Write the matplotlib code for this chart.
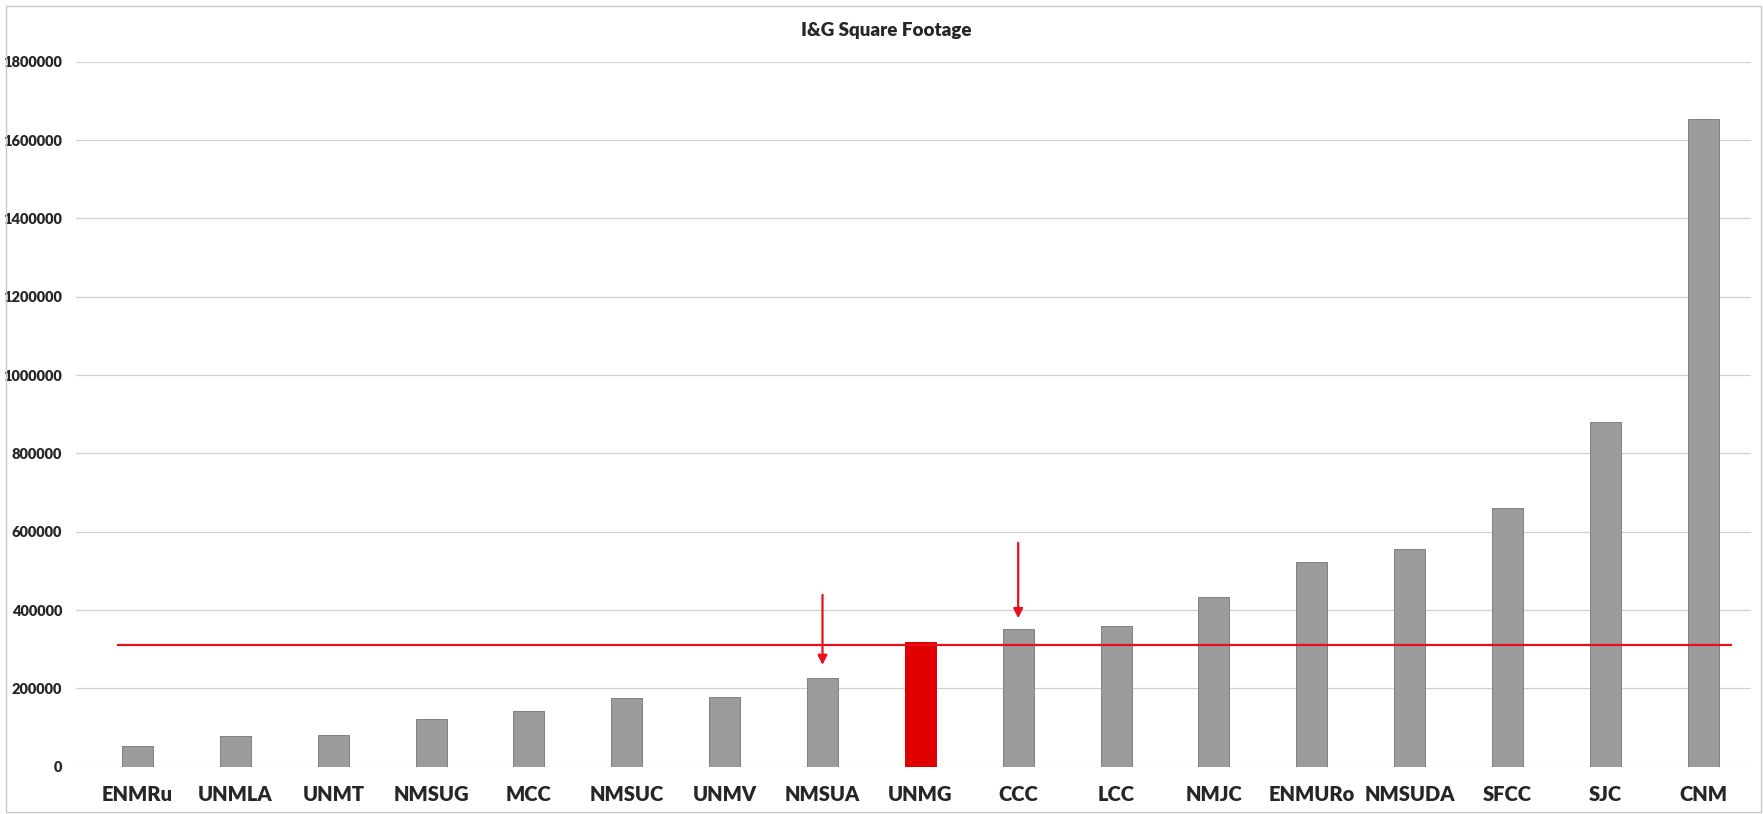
import matplotlib
matplotlib.use('Agg')
import matplotlib.pyplot as plt
from matplotlib.patches import Rectangle

plt.rcParams['font.family'] = ['Lato', 'DejaVu Sans']

campuses = ['ENMRu', 'UNMLA', 'UNMT', 'NMSUG', 'MCC', 'NMSUC', 'UNMV', 'NMSUA', 'UNMG',
            'CCC', 'LCC', 'NMJC', 'ENMURo', 'NMSUDA', 'SFCC', 'SJC', 'CNM']
sq_footage = [53600, 78400, 81700, 121500, 142000, 175400, 178700, 225800, 319300,
              351700, 359400, 434200, 522000, 556000, 661600, 880900, 1652600]
highlight = 'UNMG'
reference_level = 309500
arrow_targets = ['NMSUA', 'CCC']
arrow_from = [438600, 571400]
arrow_to = [259800, 379000]
y_ticks = [0, 200000, 400000, 600000, 800000, 1000000, 1200000, 1400000, 1600000, 1800000]

fig = plt.figure(figsize=(17.63, 8.14), dpi=100)
ax = fig.add_axes([0.0431, 0.0581, 0.9501, 0.8661])

x = list(range(len(campuses)))
colors = ['#e00000' if c == highlight else '#9b9b9b' for c in campuses]
edges = ['#e00000' if c == highlight else '#808080' for c in campuses]
ax.bar(x, sq_footage, width=0.317, color=colors, edgecolor=edges, linewidth=0.7, zorder=2)

# reference line at UNMG level
ax.hlines(reference_level, -0.21, 16.3, colors='#e8101a', linewidth=1.6, zorder=3)

for name, y0, y1 in zip(arrow_targets, arrow_from, arrow_to):
    i = campuses.index(name)
    ax.annotate('', xy=(i, y1), xytext=(i, y0),
                arrowprops=dict(arrowstyle='-|>', color='#e8101a', lw=1.6,
                                mutation_scale=14, shrinkA=0, shrinkB=0), zorder=4)

ax.set_xlim(-0.63, 16.49)
ax.set_ylim(0, 1800000)
ax.set_yticks(y_ticks)
ax.set_yticklabels([str(t) for t in y_ticks])
ax.set_xticks(x)
ax.set_xticklabels(campuses)
ax.grid(axis='y', color='#d0d0d0', linewidth=0.9, zorder=0)
ax.set_axisbelow(True)
for s in ax.spines.values():
    s.set_visible(False)
ax.tick_params(axis='both', length=0, colors='#262626')
ax.tick_params(axis='x', pad=13, labelsize=14.5)
ax.tick_params(axis='y', pad=10, labelsize=10.5)
for lab in ax.get_xticklabels() + ax.get_yticklabels():
    lab.set_fontweight('heavy')

fig.text(0.5027, 0.962, 'I&G Square Footage', ha='center', va='center',
         fontsize=13.5, fontweight='heavy', color='#262626')

fig.patches.append(Rectangle((0.0034, 0.0025), 0.9955, 0.99, transform=fig.transFigure,
                             fill=False, edgecolor='#c8c8c8', linewidth=1))

fig.savefig('out.png', dpi=100)
